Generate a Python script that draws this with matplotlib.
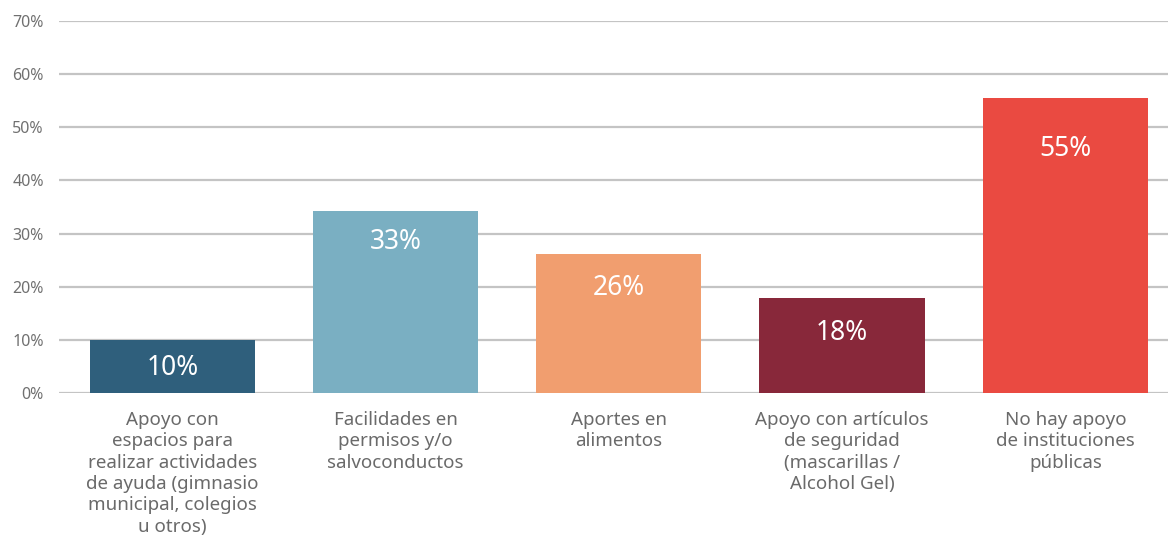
import matplotlib.pyplot as plt
import numpy as np

plt.rcParams['font.family'] = ['Noto Sans', 'DejaVu Sans']

# datos
categorias = ['Apoyo con\nespacios para\nrealizar actividades\nde ayuda (gimnasio\nmunicipal, colegios\nu otros)',
              'Facilidades en\npermisos y/o\nsalvoconductos',
              'Aportes en\nalimentos',
              'Apoyo con artículos\nde seguridad\n(mascarillas /\nAlcohol Gel)',
              'No hay apoyo\nde instituciones\npúblicas']
valores = [10.0, 34.2, 26.2, 17.9, 55.5]
etiquetas = ['10%', '33%', '26%', '18%', '55%']
colores = ['#2f5f7c', '#7aafc2', '#f19e6f', '#88283a', '#ea4a41']
desplaz = [28, 31, 34, 35, 51]  # px bajo el borde superior

fig = plt.figure(figsize=(11.68, 5.38), dpi=100)
ax = fig.add_axes([59/1168, 145/538, 1 - 59/1168, 372/538])

x = np.arange(len(valores))
ax.bar(x, valores, width=0.74, color=colores, zorder=3)

for xi, v, t, d in zip(x, valores, etiquetas, desplaz):
    ax.annotate(t, (xi, v), xytext=(0, -d * 0.72), textcoords='offset points',
                ha='center', va='center', color='white', fontsize=19, zorder=4)

ax.set_xlim(-0.508, 4.46)
ax.set_ylim(0, 70)
ax.set_yticks(range(0, 71, 10))
ax.set_yticklabels([f'{v}%' for v in range(0, 71, 10)], color='#707070', fontsize=11.5)
ax.set_xticks(x)
ax.set_xticklabels(categorias, color='#6a6a6a', fontsize=13.5, linespacing=1.24)
ax.tick_params(axis='x', length=0, pad=13)
ax.tick_params(axis='y', length=0, pad=11)
ax.grid(axis='y', color='#c4c4c4', linewidth=1.6, zorder=0)
for s in ax.spines.values():
    s.set_visible(False)

plt.savefig('out.png', dpi=100)
